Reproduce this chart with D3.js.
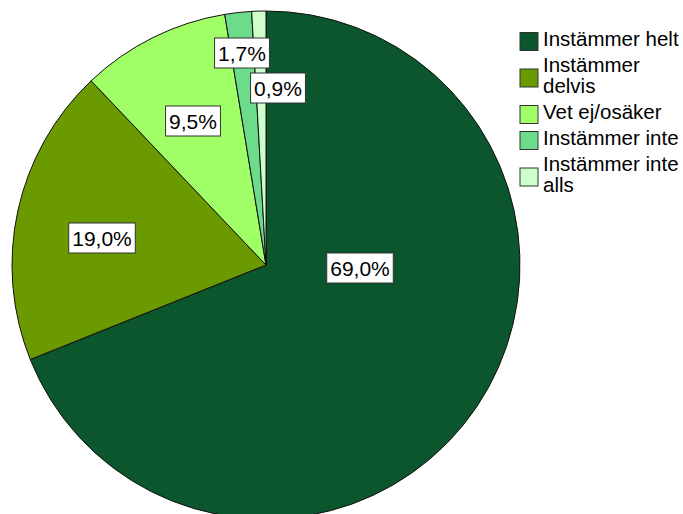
<!DOCTYPE html>
<html>
<head>
<meta charset="utf-8">
<script src="https://cdn.jsdelivr.net/npm/d3@7"></script>
<style>
  body { margin: 0; background: #fff; }
  svg { display: block; font-family: "Liberation Sans", Arial, sans-serif; }
</style>
</head>
<body>
<svg id="chart"></svg>
<script>
// data
const categories = ["Instämmer helt", "Instämmer delvis", "Vet ej/osäker", "Instämmer inte", "Instämmer inte alls"];
const percents = [69.0, 19.0, 9.5, 1.7, 0.9];
const colors = ["#0b562c", "#6a9900", "#a0ff66", "#6cdc8a", "#ccffcc"];

// constants
const width = 683;
const height = 514;
const cx = 266, cy = 265, radius = 254;

// label offsets from the pie centre (layout only)
const labelOffsets = [[94, 3], [-164, -27], [-73, -144], [-24, -212], [12, -177]];

const svg = d3.select('svg#chart').attr('width', width).attr('height', height);

const pie = d3.pie().sort(null).value(d => d)(percents);
const arc = d3.arc().innerRadius(0).outerRadius(radius);

const g = svg.append('g').attr('transform', 'translate(' + cx + ',' + cy + ')');

g.selectAll('path').data(pie).enter().append('path')
  .attr('d', arc)
  .attr('fill', (d, i) => colors[i])
  .attr('stroke', '#111')
  .attr('stroke-width', 1);

// percent labels in white boxes
const fmt = v => v.toFixed(1).replace('.', ',') + '%';
const labels = g.selectAll('g.lbl').data(pie).enter().append('g')
  .attr('class', 'lbl')
  .attr('transform', (d, i) => 'translate(' + labelOffsets[i][0] + ',' + labelOffsets[i][1] + ')');

labels.append('rect').attr('fill', '#fff').attr('stroke', '#333').attr('stroke-width', 1);
labels.append('text')
  .attr('text-anchor', 'middle')
  .attr('dy', '0.36em')
  .attr('font-size', 21)
  .attr('fill', '#000')
  .text(d => fmt(d.data));

labels.each(function() {
  const t = d3.select(this).select('text').node();
  const w = t.getComputedTextLength();
  d3.select(this).select('rect')
    .attr('x', -w / 2 - 3.5).attr('y', -15)
    .attr('width', w + 7).attr('height', 30);
});

// legend
const legend = svg.append('g').attr('transform', 'translate(520, 0)');
const maxTextWidth = 140;
const lh = 21;
let y = 30;
categories.forEach(function(cat, i) {
  const item = legend.append('g');
  const text = item.append('text').attr('x', 23).attr('font-size', 20.5).attr('fill', '#000');
  // wrap words into lines that fit
  const words = cat.split(' ');
  let lines = [];
  let line = [];
  const probe = text.append('tspan');
  words.forEach(function(w) {
    line.push(w);
    probe.text(line.join(' '));
    if (probe.node().getComputedTextLength() > maxTextWidth && line.length > 1) {
      line.pop();
      lines.push(line.join(' '));
      line = [w];
    }
  });
  lines.push(line.join(' '));
  probe.remove();
  lines.forEach(function(l, j) {
    text.append('tspan').attr('x', 23).attr('y', y + 16 + j * lh).text(l);
  });
  const blockH = lines.length * lh;
  const midY = y + blockH / 2 + 1;
  item.append('rect')
    .attr('x', 0).attr('y', midY - 9)
    .attr('width', 18).attr('height', 18)
    .attr('fill', colors[i]).attr('stroke', '#333').attr('stroke-width', 1);
  y += blockH + 5;
});
</script>
</body>
</html>
